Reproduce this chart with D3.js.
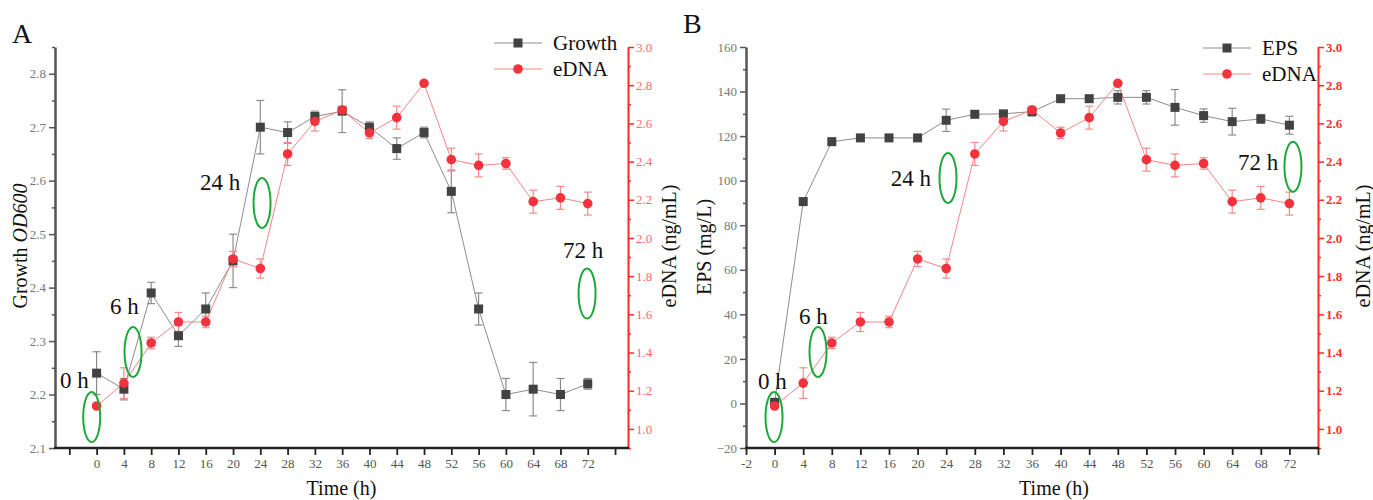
<!DOCTYPE html>
<html>
<head>
<meta charset="utf-8">
<script src="https://cdn.jsdelivr.net/npm/d3@7"></script>
<style>
  body { margin: 0; background: #fff; }
  svg text { font-family: "Liberation Serif", "Times New Roman", serif; }
</style>
</head>
<body>
<div id="chart"></div>
<script>
// sampling times (h)
var times = [0, 4, 8, 12, 16, 20, 24, 28, 32, 36, 40, 44, 48, 52, 56, 60, 64, 68, 72];
// panel A: growth OD600
var growth    = [2.24, 2.21, 2.39, 2.31, 2.36, 2.45, 2.70, 2.69, 2.72, 2.73, 2.70, 2.66, 2.69, 2.58, 2.36, 2.20, 2.21, 2.20, 2.22];
var growthErr = [0.04, 0.02, 0.02, 0.02, 0.03, 0.05, 0.05, 0.02, 0.01, 0.04, 0.01, 0.02, 0.01, 0.04, 0.03, 0.03, 0.05, 0.03, 0.01];
// panel B: EPS (mg/L)
var eps    = [0.5, 90.6, 117.5, 119.2, 119.2, 119.2, 127.1, 129.8, 130.0, 131.0, 136.8, 136.8, 137.4, 137.4, 132.9, 129.2, 126.5, 127.7, 124.9];
var epsErr = [1, 1, 1.5, 1, 1, 1, 5, 1, 1, 2, 1, 1, 3, 3, 8, 3, 6, 2, 4];
// eDNA (ng/mL), same in both panels
var edna    = [1.12, 1.24, 1.45, 1.56, 1.56, 1.89, 1.84, 2.44, 2.61, 2.67, 2.55, 2.63, 2.81, 2.41, 2.38, 2.39, 2.19, 2.21, 2.18];
var ednaErr = [0.01, 0.08, 0.03, 0.05, 0.03, 0.04, 0.05, 0.06, 0.05, 0.02, 0.03, 0.06, 0.01, 0.06, 0.06, 0.03, 0.06, 0.06, 0.06];

// tick labels
var xTicks = [-4, 0, 4, 8, 12, 16, 20, 24, 28, 32, 36, 40, 44, 48, 52, 56, 60, 64, 68, 72, 76];
var xTickLabelsA = ["", "0", "4", "8", "12", "16", "20", "24", "28", "32", "36", "40", "44", "48", "52", "56", "60", "64", "68", "72", ""];
var xTickLabelsB = ["-2", "0", "4", "8", "12", "16", "20", "24", "28", "32", "36", "40", "44", "48", "52", "56", "60", "64", "68", "72", ""];
var growthTicks = [2.1, 2.2, 2.3, 2.4, 2.5, 2.6, 2.7, 2.8];
var epsTicks = [-20, 0, 20, 40, 60, 80, 100, 120, 140, 160];
var ednaTicks = [1.0, 1.2, 1.4, 1.6, 1.8, 2.0, 2.2, 2.4, 2.6, 2.8, 3.0];

// annotations: label, ellipse centre (time, eDNA value), text start (time, eDNA value)
var notesA = [
  { label: "0 h",  cx: -0.72, cy: 1.062, tx: -5.37, ty: 1.214 },
  { label: "6 h",  cx: 5.34,  cy: 1.403, tx: 1.96,  ty: 1.602 },
  { label: "24 h", cx: 24.25, cy: 2.183, tx: 15.16, ty: 2.251 },
  { label: "72 h", cx: 71.9,  cy: 1.709, tx: 68.38, ty: 1.895 }
];
var notesB = [
  { label: "0 h",  cx: -0.08, cy: 1.062, tx: -2.32, ty: 1.209 },
  { label: "6 h",  cx: 6.07,  cy: 1.403, tx: 3.41,  ty: 1.549 },
  { label: "24 h", cx: 24.25, cy: 2.314, tx: 16.24, ty: 2.274 },
  { label: "72 h", cx: 72.5,  cy: 2.373, tx: 64.81, ty: 2.356 }
];

var W = 1373, H = 500;
var svg = d3.select("#chart").append("svg")
  .attr("width", W).attr("height", H);

function drawPanel(p) {
  var g = svg.append("g");
  var x = d3.scaleLinear().domain(p.xDomain).range([p.left, p.right]);
  var yL = d3.scaleLinear().domain(p.leftDomain).range([p.bottom, p.top]);
  var yR = d3.scaleLinear().domain([0.9, 3.0]).range([p.bottom, p.top]);

  // minor ticks
  g.append("g").attr("transform", "translate(" + p.left + ",0)")
    .call(d3.axisLeft(yL).tickValues(p.leftMinor).tickSize(3).tickFormat(""))
    .call(function(a) { a.select(".domain").remove(); a.selectAll("line").attr("stroke", "#555").attr("stroke-width", 1.5); });
  g.append("g").attr("transform", "translate(" + p.right + ",0)")
    .call(d3.axisRight(yR).tickValues(d3.range(0.9, 3.0, 0.2)).tickSize(3).tickFormat(""))
    .call(function(a) { a.select(".domain").remove(); a.selectAll("line").attr("stroke", "#ff2a2a").attr("stroke-width", 1.5); });

  // left axis
  var la = g.append("g").attr("transform", "translate(" + p.left + ",0)")
    .call(d3.axisLeft(yL).tickValues(p.leftTicks).tickSize(6).tickSizeOuter(0).tickPadding(3)
      .tickFormat(p.leftFormat));
  la.select(".domain").attr("stroke", "#555").attr("stroke-width", 2.5);
  la.selectAll("line").attr("stroke", "#555").attr("stroke-width", 1.5);
  la.selectAll("text").attr("fill", "#777").style("font-size", "13px");

  // right axis
  var ra = g.append("g").attr("transform", "translate(" + p.right + ",0)")
    .call(d3.axisRight(yR).tickValues(ednaTicks).tickSize(6).tickSizeOuter(0).tickPadding(2)
      .tickFormat(d3.format(".1f")));
  ra.select(".domain").attr("stroke", "#ff2a2a").attr("stroke-width", 2);
  ra.selectAll("line").attr("stroke", "#ff2a2a").attr("stroke-width", 1.5);
  ra.selectAll("text").attr("fill", p.rightBold ? "#ff3030" : "#ff6a6a")
    .style("font-size", "13px").style("font-weight", p.rightBold ? "bold" : "normal");

  // bottom axis
  var ba = g.append("g").attr("transform", "translate(0," + p.bottom + ")")
    .call(d3.axisBottom(x).tickValues(xTicks).tickSize(7).tickSizeOuter(0).tickPadding(4)
      .tickFormat(function(d, i) { return p.xLabels[i]; }));
  ba.select(".domain").attr("stroke", "#222").attr("stroke-width", 2.5)
    .attr("d", "M" + (p.left - 1) + ",0H" + (p.right + 1));
  ba.selectAll("line").attr("stroke", "#222").attr("stroke-width", 1.8);
  ba.selectAll("text").attr("fill", "#555").style("font-size", "13px");

  // axis titles
  g.append("text").attr("x", (p.left + p.right) / 2 + p.titleShift).attr("y", 495)
    .attr("text-anchor", "middle").style("font-size", "20px").attr("fill", "#111")
    .text("Time (h)");
  var lt = g.append("text")
    .attr("transform", "translate(" + p.leftTitleX + "," + p.leftTitleY + ") rotate(-90)")
    .attr("text-anchor", "middle").style("font-size", "20px").attr("fill", "#111");
  p.leftTitle.forEach(function(s) {
    lt.append("tspan").style("font-style", s.italic ? "italic" : "normal").text(s.t);
  });
  g.append("text")
    .attr("transform", "translate(" + p.rightTitleX + ",246) rotate(-90)")
    .attr("text-anchor", "middle").style("font-size", "20px").attr("fill", "#111")
    .text("eDNA (ng/mL)");
  g.append("text").attr("x", p.letterX).attr("y", p.letterY)
    .style("font-size", "28px").attr("fill", "#111").text(p.letter);

  // series lines
  var lineL = d3.line().x(function(d, i) { return x(times[i]); }).y(function(d) { return yL(d); });
  var lineR = d3.line().x(function(d, i) { return x(times[i]); }).y(function(d) { return yR(d); });

  g.append("path").datum(p.leftData).attr("d", lineL)
    .attr("fill", "none").attr("stroke", "#8c8c8c").attr("stroke-width", 1);
  g.append("path").datum(edna).attr("d", lineR)
    .attr("fill", "none").attr("stroke", "#f58585").attr("stroke-width", 1);

  function errBars(vals, errs, y, color) {
    var eb = g.append("g").attr("stroke", color).attr("stroke-width", 1.2).attr("fill", "none");
    vals.forEach(function(v, i) {
      var cx = x(times[i]), y1 = y(v + errs[i]), y2 = y(v - errs[i]);
      eb.append("line").attr("x1", cx).attr("x2", cx).attr("y1", y1).attr("y2", y2);
      eb.append("line").attr("x1", cx - 4).attr("x2", cx + 4).attr("y1", y1).attr("y2", y1);
      eb.append("line").attr("x1", cx - 4).attr("x2", cx + 4).attr("y1", y2).attr("y2", y2);
    });
  }
  errBars(p.leftData, p.leftErr, yL, "#8c8c8c");
  errBars(edna, ednaErr, yR, "#f58a8a");

  g.selectAll(".sq").data(p.leftData).enter().append("rect")
    .attr("x", function(d, i) { return x(times[i]) - 4.5; })
    .attr("y", function(d) { return yL(d) - 4.5; })
    .attr("width", 9).attr("height", 9).attr("fill", "#424242");
  g.selectAll(".dot").data(edna).enter().append("circle")
    .attr("cx", function(d, i) { return x(times[i]); })
    .attr("cy", function(d) { return yR(d); })
    .attr("r", 4.8).attr("fill", "#f2333d");

  // legend
  var lg = g.append("g").attr("transform", "translate(" + p.legendX + "," + p.legendY + ")");
  lg.append("line").attr("x1", 0).attr("x2", 48).attr("y1", 0).attr("y2", 0).attr("stroke", "#8c8c8c");
  lg.append("rect").attr("x", 19.5).attr("y", -4.5).attr("width", 9).attr("height", 9).attr("fill", "#424242");
  lg.append("text").attr("x", 59).attr("y", 7).style("font-size", "21px").attr("fill", "#111").text(p.leftName);
  lg.append("line").attr("x1", 0).attr("x2", 48).attr("y1", 26).attr("y2", 26).attr("stroke", "#f58585");
  lg.append("circle").attr("cx", 24).attr("cy", 26).attr("r", 4.8).attr("fill", "#f2333d");
  lg.append("text").attr("x", 59).attr("y", 33).style("font-size", "21px").attr("fill", "#111").text("eDNA");

  // annotations
  p.notes.forEach(function(n) {
    g.append("ellipse").attr("cx", x(n.cx)).attr("cy", yR(n.cy)).attr("rx", 8.5).attr("ry", 25)
      .attr("fill", "none").attr("stroke", "#1ea83c").attr("stroke-width", 2);
    g.append("text").attr("x", x(n.tx)).attr("y", yR(n.ty))
      .style("font-size", "23px").attr("fill", "#111").text(n.label);
  });
}

drawPanel({
  left: 55, right: 628, top: 47, bottom: 448,
  xDomain: [-6.1, 77.9], leftDomain: [2.1, 2.85],
  leftTicks: growthTicks, leftMinor: d3.range(2.15, 2.85, 0.1),
  leftFormat: d3.format(".1f"),
  xLabels: xTickLabelsA, titleShift: 0,
  leftData: growth, leftErr: growthErr, leftName: "Growth",
  leftTitle: [{ t: "Growth " }, { t: "OD600", italic: true }],
  leftTitleX: 27, leftTitleY: 246, rightTitleX: 676,
  letter: "A", letterX: 12, letterY: 43,
  legendX: 494, legendY: 43, rightBold: false,
  notes: notesA
});

drawPanel({
  left: 746, right: 1318, top: 47, bottom: 448,
  xDomain: [-4, 76], leftDomain: [-20, 160],
  leftTicks: epsTicks, leftMinor: d3.range(-10, 160, 20),
  leftFormat: d3.format("d"),
  xLabels: xTickLabelsB, titleShift: 22,
  leftData: eps, leftErr: epsErr, leftName: "EPS",
  leftTitle: [{ t: "EPS (mg/L)" }],
  leftTitleX: 711, leftTitleY: 247, rightTitleX: 1370,
  letter: "B", letterX: 683, letterY: 33,
  legendX: 1203, legendY: 48, rightBold: true,
  notes: notesB
});
</script>
</body>
</html>
